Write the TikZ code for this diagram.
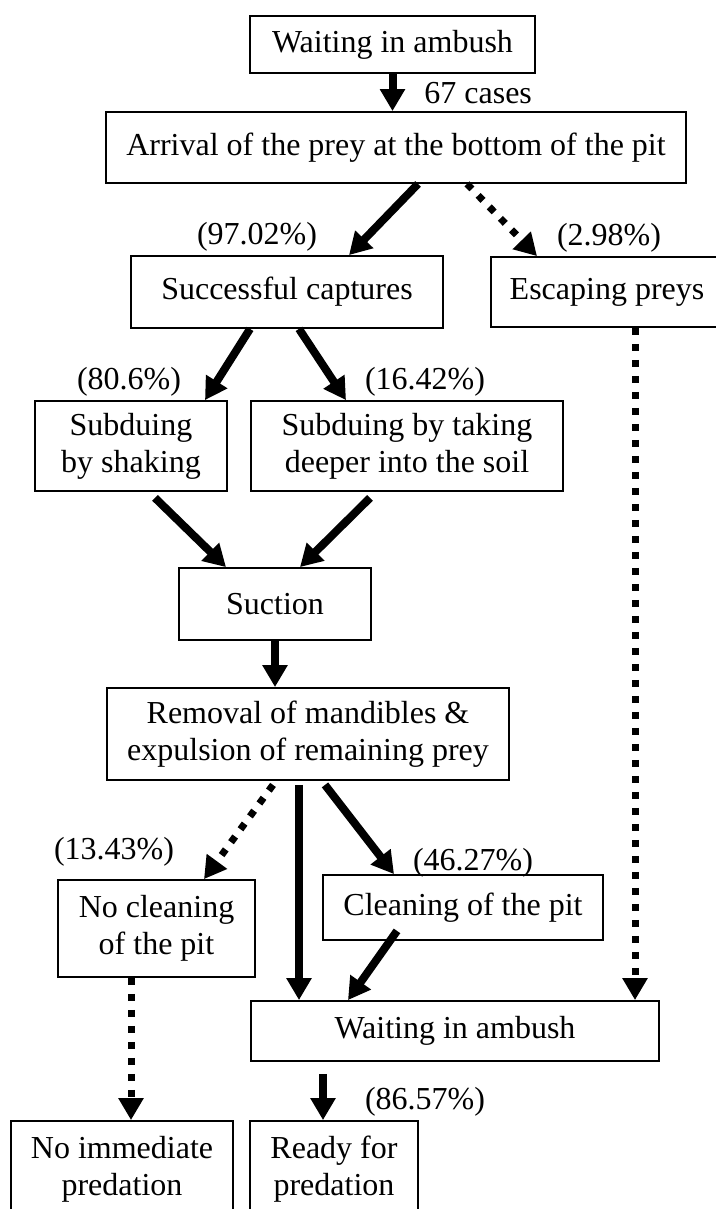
\documentclass[tikz,border=0pt]{standalone}
\usepackage{fontspec}
\setmainfont{Liberation Serif}
\usepackage{tikz}
\usetikzlibrary{arrows.meta}
\tikzset{
    flow-box/.style = {draw=black, fill=white, line width=0.9pt, rectangle, inner sep=0pt, align=center, font=\fontsize{16}{18.5}\selectfont},
    pct-label/.style = {inner sep=0pt, font=\fontsize{16}{18.5}\selectfont},
    solid-arrow/.style = {line width=4pt, -{Triangle[width=12pt,length=11pt]}},
    dotted-arrow/.style = {line width=3.5pt, dash pattern=on 3.5pt off 4.5pt, -{Triangle[width=12pt,length=11pt]}},
}

\begin{document}
\begin{tikzpicture}[x=0.5pt, y=-0.5pt]
\useasboundingbox (0,0) rectangle (716,1209);
\node [flow-box, minimum width=142.5pt, minimum height=28.5pt] (wait-top) at (392.5,44.5) {Waiting in ambush};
\node [flow-box, minimum width=290pt, minimum height=35.5pt] (arrival) at (396,147.5) {Arrival of the prey at the bottom of the pit};
\node [flow-box, minimum width=156pt, minimum height=36pt] (success) at (287,292) {Successful captures};
\node [flow-box, minimum width=116pt, minimum height=35pt] (escape) at (607,292) {Escaping preys};
\node [flow-box, minimum width=96pt, minimum height=45pt] (shake) at (131,446) {Subduing\\by shaking};
\node [flow-box, minimum width=156pt, minimum height=45pt] (deeper) at (407,446) {Subduing by taking\\deeper into the soil};
\node [flow-box, minimum width=96pt, minimum height=36pt] (suction) at (275,604) {Suction};
\node [flow-box, minimum width=201pt, minimum height=46pt] (removal) at (308,734) {Removal of mandibles \&\\expulsion of remaining prey};
\node [flow-box, minimum width=98.5pt, minimum height=48.5pt] (no-cleaning) at (156.5,928.5) {No cleaning\\of the pit};
\node [flow-box, minimum width=140pt, minimum height=32.5pt] (cleaning) at (463,907.5) {Cleaning of the pit};
\node [flow-box, minimum width=204pt, minimum height=30pt] (wait-bottom) at (455,1031) {Waiting in ambush};
\node [flow-box, minimum width=111pt, minimum height=48pt] (no-predation) at (122,1169) {No immediate\\predation};
\node [flow-box, minimum width=84pt, minimum height=48pt] (ready) at (334,1169) {Ready for\\predation};

\node [pct-label, anchor=west] at (424,93) {67 cases};
\node [pct-label] at (257,237) {(97.02\%)};
\node [pct-label] at (609,238) {(2.98\%)};
\node [pct-label] at (129,382) {(80.6\%)};
\node [pct-label] at (425,382) {(16.42\%)};
\node [pct-label] at (114,852) {(13.43\%)};
\node [pct-label] at (473,863) {(46.27\%)};
\node [pct-label] at (425,1102) {(86.57\%)};

\draw [solid-arrow] (wait-top.south) -- (wait-top.south |- arrival.north);
\draw [solid-arrow] ([xshift=11pt]arrival.south) -- ([xshift=31pt]success.north);
\draw [dotted-arrow] ([xshift=35.5pt]arrival.south) -- ([xshift=-35pt]escape.north);
\draw [solid-arrow] ([xshift=-18.5pt]success.south) -- ([xshift=37pt]shake.north);
\draw [solid-arrow] ([xshift=6pt]success.south) -- ([xshift=-30.5pt]deeper.north);
\draw [solid-arrow] ([xshift=12pt,yshift=-3pt]shake.south) -- ([xshift=-24.5pt]suction.north);
\draw [solid-arrow] ([xshift=-18.5pt,yshift=-3pt]deeper.south) -- ([xshift=12.5pt]suction.north);
\draw [solid-arrow] (suction.south) -- (suction.south |- removal.north);
\draw [dotted-arrow] ([xshift=-17.5pt,yshift=-2pt]removal.south) -- ([xshift=23.75pt]no-cleaning.north);
\draw [solid-arrow] ([xshift=-4.5pt,yshift=-2pt]removal.south) -- ([xshift=-4.5pt]removal.south |- wait-bottom.north);
\draw [solid-arrow] ([xshift=8.5pt,yshift=-2pt]removal.south) -- ([xshift=-34.5pt]cleaning.north);
\draw [solid-arrow] ([xshift=-33pt,yshift=5pt]cleaning.south) -- ([xshift=-53.5pt]wait-bottom.north);
\draw [dotted-arrow] ([xshift=14pt]escape.south) -- ([xshift=14pt]escape.south |- wait-bottom.north);
\draw [solid-arrow] ([xshift=-66pt,yshift=-6pt]wait-bottom.south) -- ([xshift=-66pt]wait-bottom.south |- ready.north);
\draw [dotted-arrow] ([xshift=-12.75pt]no-cleaning.south) -- ([xshift=-12.75pt]no-cleaning.south |- no-predation.north);
\end{tikzpicture}
\end{document}
